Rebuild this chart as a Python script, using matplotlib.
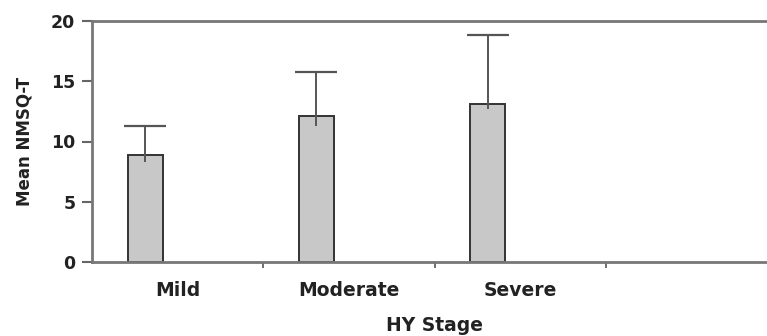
import matplotlib
matplotlib.use("Agg")
import matplotlib.pyplot as plt
import numpy as np

categories = ["Mild", "Moderate", "Severe", ""]
means = [8.9, 12.1, 13.1, np.nan]
err_upper = [2.4, 3.7, 5.7, np.nan]
err_lower = [0.6, 0.8, 0.4, np.nan]
yticks = [0, 5, 10, 15, 20]

plt.rcParams['font.family'] = ['DejaVu Sans']
plt.rcParams['font.weight'] = 'bold'

fig = plt.figure(figsize=(7.67, 3.36), dpi=100)
ax = fig.add_axes([92/767, 1-262/336, (777-92)/767, (262-21)/336])

x = np.arange(len(categories))
offset = -0.19
width = 0.205
bx = x + offset
ax.bar(bx, means, width=width, color='#c8c8c8', edgecolor='#333333', linewidth=1.4, zorder=2)
ax.errorbar(bx, means, yerr=[err_lower, err_upper], fmt='none', ecolor='#555555',
            elinewidth=1.4, capsize=0, zorder=3)
tops = np.array(means) + np.array(err_upper)
ax.plot(bx, tops, linestyle='none', marker='_', markersize=30, markeredgewidth=1.6,
        color='#555555', zorder=3)

ax.set_xlim(-0.5, len(categories) - 0.5)
ax.set_ylim(0, 20)
ax.set_yticks(yticks)
ax.set_yticklabels([str(t) for t in yticks], fontsize=12.5, fontweight='bold', color='#222222')
ax.set_xticks(x)
ax.set_xticklabels(categories, fontsize=13.5, fontweight='bold', color='#222222')
ax.set_xticks(x[:-1] + 0.5, minor=True)
ax.tick_params(axis='x', which='major', length=0, pad=14)
ax.tick_params(axis='x', which='minor', length=4, width=1.2, color='#555555', direction='out')
ax.tick_params(axis='y', length=7, width=1.5, color='#666666', pad=5)

for s in ax.spines.values():
    s.set_color('#777777')
    s.set_linewidth(2)

ax.set_xlabel("HY Stage", fontsize=13.5, fontweight='bold', labelpad=11, color='#222222')
ax.set_ylabel("Mean NMSQ-T", fontsize=12, fontweight='bold', labelpad=13, color='#222222')

fig.savefig("out.png", dpi=100)
